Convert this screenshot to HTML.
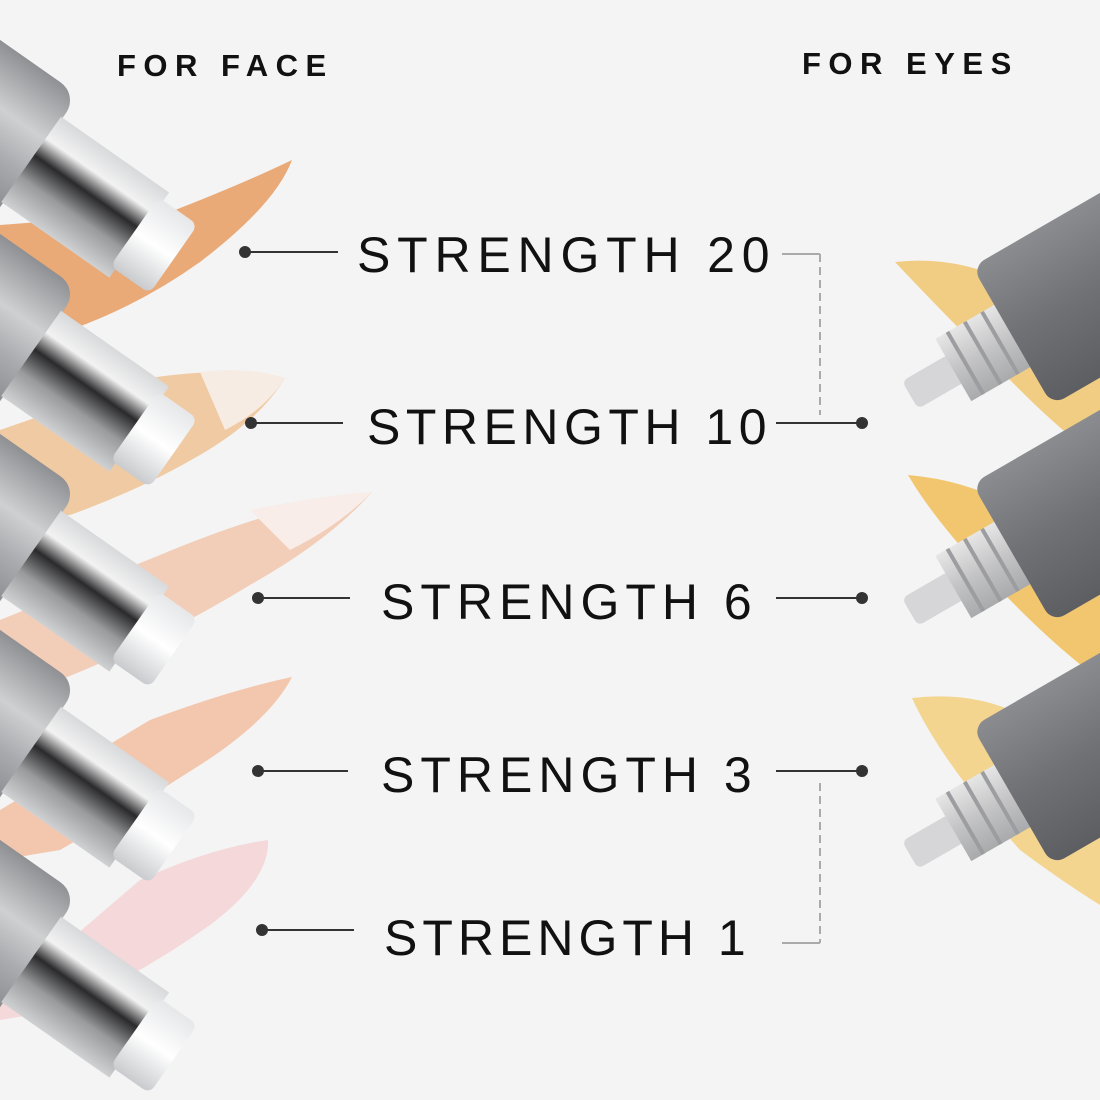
<!DOCTYPE html>
<html><head><meta charset="utf-8"><style>
html,body{margin:0;padding:0;background:#f4f4f4}
.wrap{position:relative;width:1100px;height:1100px;overflow:hidden;background:#f4f4f4}
svg{position:absolute;left:0;top:0}
.t{position:absolute;font-family:"Liberation Sans",sans-serif;color:#111;white-space:nowrap;line-height:1}
.h{font-size:31px;font-weight:bold;letter-spacing:7.5px;top:50px}
.s{font-size:50px;letter-spacing:6.8px}
</style></head><body><div class="wrap">
<svg width="1100" height="1100" viewBox="0 0 1100 1100">
<defs>
<linearGradient id="body" x1="0" y1="0" x2="0" y2="1">
<stop offset="0" stop-color="#8e9093"/><stop offset="0.35" stop-color="#cfd0d2"/><stop offset="0.6" stop-color="#a9abae"/><stop offset="1" stop-color="#7e8083"/></linearGradient>
<linearGradient id="chrome" x1="0" y1="0" x2="0" y2="1">
<stop offset="0" stop-color="#d8d9db"/><stop offset="0.25" stop-color="#f2f2f2"/><stop offset="0.45" stop-color="#2a2a2c"/><stop offset="0.7" stop-color="#9a9b9d"/><stop offset="1" stop-color="#d0d1d3"/></linearGradient>
<linearGradient id="cap" x1="0" y1="0" x2="0" y2="1">
<stop offset="0" stop-color="#e6e7e9"/><stop offset="0.5" stop-color="#ffffff"/><stop offset="1" stop-color="#c9cbce"/></linearGradient>
<linearGradient id="tube" x1="0" y1="0" x2="0" y2="1">
<stop offset="0" stop-color="#8a8c90"/><stop offset="0.5" stop-color="#6f7175"/><stop offset="1" stop-color="#5c5e62"/></linearGradient>
<linearGradient id="noz" x1="0" y1="0" x2="0" y2="1">
<stop offset="0" stop-color="#e6e6e6"/><stop offset="0.5" stop-color="#c4c4c6"/><stop offset="1" stop-color="#a9aaac"/></linearGradient>
<g id="bot">
<rect x="-540" y="-80" width="370" height="160" rx="22" fill="url(#body)"/>
<rect x="-172" y="-52" width="132" height="104" fill="url(#chrome)"/>
<rect x="-46" y="-42" width="48" height="84" rx="8" fill="url(#cap)"/>
</g>
<g id="tub">
<rect x="0" y="-16" width="55" height="32" rx="6" fill="#d6d6d8"/>
<rect x="50" y="-36" width="72" height="72" fill="url(#noz)"/>
<rect x="62" y="-36" width="4" height="72" fill="#9c9da0"/>
<rect x="82" y="-36" width="4" height="72" fill="#9c9da0"/>
<rect x="102" y="-36" width="4" height="72" fill="#9c9da0"/>
<rect x="118" y="-80" width="420" height="160" rx="14" fill="url(#tube)"/>
</g>
</defs>
<path d="M0,225 L170,212 Q240,185 292,160 Q275,205 200,262 Q140,305 70,330 L0,335Z" fill="#e9aa78"/>
<path d="M0,430 L150,378 Q230,366 285,378 Q260,420 200,455 Q140,490 70,515 L0,520Z" fill="#efcaa2"/>
<path d="M200,372 Q250,366 285,378 Q265,410 225,430Z" fill="#f7ece4"/>
<path d="M0,620 L160,555 Q280,505 372,492 Q330,540 250,585 Q160,640 60,680 L0,690Z" fill="#f2cdb8"/>
<path d="M250,510 Q330,494 372,492 Q340,525 290,550Z" fill="#f8ede8"/>
<path d="M0,810 L150,720 Q230,690 292,677 Q270,720 200,765 Q130,810 60,850 L0,860Z" fill="#f3c7ad"/>
<path d="M0,1000 L140,880 Q210,848 268,840 Q270,880 210,925 Q140,975 60,1010 L0,1020Z" fill="#f5d8da"/>
<use href="#bot" transform="translate(172,258) rotate(35)"/>
<use href="#bot" transform="translate(172,452) rotate(35)"/>
<use href="#bot" transform="translate(172,652) rotate(35)"/>
<use href="#bot" transform="translate(172,848) rotate(35)"/>
<use href="#bot" transform="translate(172,1058) rotate(35)"/>
<path d="M895,262 Q960,255 1015,285 L1100,370 L1100,460 Q1060,430 1020,390 Q940,310 895,262Z" fill="#f1cd84"/>
<path d="M908,475 Q965,480 1010,505 L1100,590 L1100,680 Q1060,650 1020,610 Q940,530 908,475Z" fill="#f2c66e"/>
<path d="M912,698 Q980,690 1030,720 L1100,800 L1100,905 Q1060,880 1020,850 Q940,760 912,698Z" fill="#f4d590"/>
<use href="#tub" transform="translate(910,395) rotate(-30)"/>
<use href="#tub" transform="translate(910,612) rotate(-30)"/>
<use href="#tub" transform="translate(910,855) rotate(-30)"/>
<g stroke="#333" stroke-width="2" fill="none">
<line x1="245" y1="252" x2="338" y2="252"/>
<line x1="251" y1="423" x2="343" y2="423"/>
<line x1="258" y1="598" x2="350" y2="598"/>
<line x1="258" y1="771" x2="348" y2="771"/>
<line x1="262" y1="930" x2="354" y2="930"/>
<line x1="776" y1="423" x2="862" y2="423"/>
<line x1="776" y1="598" x2="862" y2="598"/>
<line x1="776" y1="771" x2="862" y2="771"/>
</g>
<g fill="#333">
<circle cx="245" cy="252" r="6"/><circle cx="251" cy="423" r="6"/><circle cx="258" cy="598" r="6"/><circle cx="258" cy="771" r="6"/><circle cx="262" cy="930" r="6"/>
<circle cx="862" cy="423" r="6"/><circle cx="862" cy="598" r="6"/><circle cx="862" cy="771" r="6"/>
</g>
<g stroke="#aaa" stroke-width="2" fill="none">
<line x1="782" y1="254" x2="820" y2="254"/>
<line x1="820" y1="254" x2="820" y2="415" stroke-dasharray="8,5"/>
<line x1="820" y1="783" x2="820" y2="943" stroke-dasharray="8,5"/>
<line x1="782" y1="943" x2="820" y2="943"/>
</g>
</svg>
<div class="t h" style="left:117px">FOR FACE</div>
<div class="t h" style="left:802px;top:48px">FOR EYES</div>
<div class="t s" style="left:357px;top:230px">STRENGTH 20</div>
<div class="t s" style="left:367px;top:402px;letter-spacing:5.5px">STRENGTH 10</div>
<div class="t s" style="left:381px;top:577px;letter-spacing:6px">STRENGTH 6</div>
<div class="t s" style="left:381px;top:750px;letter-spacing:6px">STRENGTH 3</div>
<div class="t s" style="left:384px;top:913px;letter-spacing:5px">STRENGTH 1</div>
</div></body></html>
